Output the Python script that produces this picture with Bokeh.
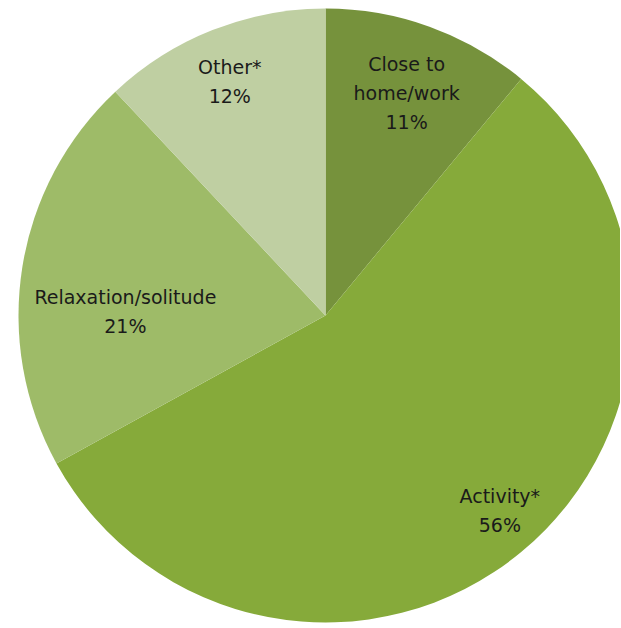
import math
from bokeh.plotting import figure
from bokeh.models import ColumnDataSource, Range1d
from bokeh.core.properties import value
from bokeh.embed import file_html
from bokeh.resources import INLINE

# Data
categories = ["Close to\nhome/work", "Activity*", "Relaxation/solitude", "Other*"]
percents = [11, 56, 21, 12]
colors = ["#76923c", "#86aa3a", "#9ebb68", "#bfcfa2"]

# Layout parameters (pixels)
W, H = 620, 627
CX, CY = 325, 315          # pie centre from top-left of figure
R = 307
label_r = [0.78, 0.85, 0.66, 0.82]
label_dx = [0, 8, 0, -3]
label_dy = [-3, 6, -28, 0]

total = sum(percents)
starts, ends, lx, ly, labels = [], [], [], [], []
cum = 0.0
for cat, v, lr, dx, dy in zip(categories, percents, label_r, label_dx, label_dy):
    a0 = math.pi / 2 - cum / total * 2 * math.pi
    cum += v
    a1 = math.pi / 2 - cum / total * 2 * math.pi
    starts.append(a0)
    ends.append(a1)
    mid = (a0 + a1) / 2
    lx.append(R * lr * math.cos(mid) + dx)
    ly.append(R * lr * math.sin(mid) + dy)
    labels.append(f"{cat}\n{v}%")

src = ColumnDataSource(dict(start=starts, end=ends, color=colors,
                            lx=lx, ly=ly, label=labels))

p = figure(width=W, height=H, output_backend="svg", toolbar_location=None,
           min_border=0, x_range=Range1d(-CX, W - CX), y_range=Range1d(-(H - CY), CY))
p.axis.visible = False
p.grid.visible = False
p.outline_line_color = None
p.background_fill_color = "white"
p.border_fill_color = "white"

p.wedge(x=0, y=0, radius=R, start_angle="start", end_angle="end", direction="clock",
        fill_color="color", line_color=None, source=src)

p.text(x="lx", y="ly", text="label", source=src, text_align="center",
       text_baseline="middle", text_font=value("DejaVu Sans"), text_font_size="19px",
       text_line_height=1.33, text_color="#1a1a1a")

open("out.html", "w").write(file_html(p, INLINE))
